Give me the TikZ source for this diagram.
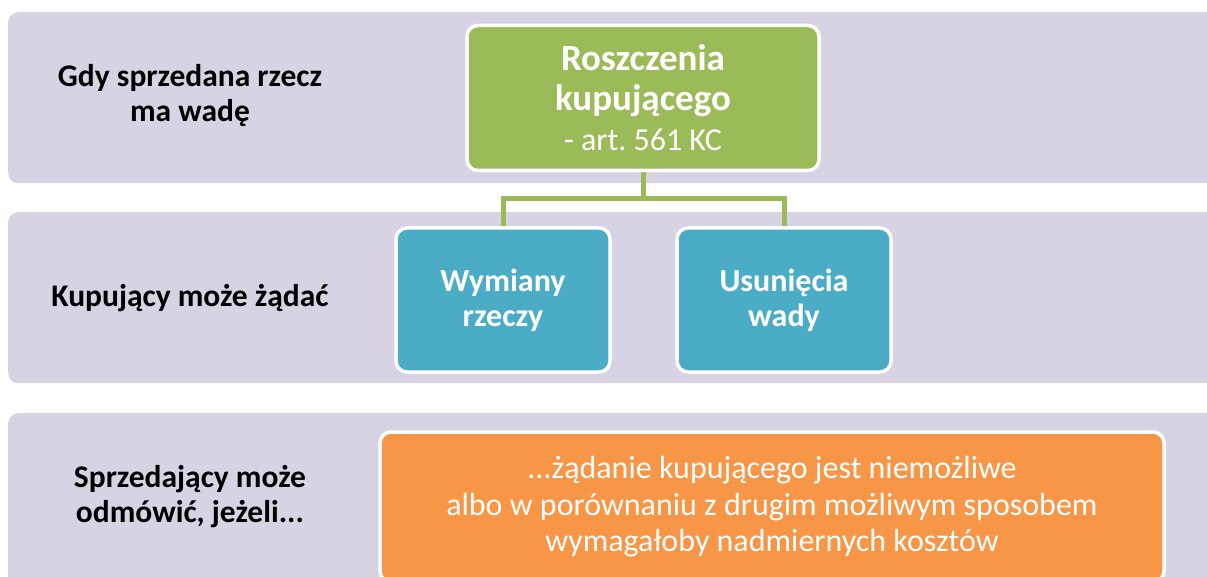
\documentclass[tikz,border=0pt]{standalone}
\usepackage{fontspec}
\setmainfont{Carlito}
\usetikzlibrary{backgrounds}
\frenchspacing
\definecolor{bandgray}{HTML}{D8D3E2}
\definecolor{boxgreen}{HTML}{9BBB59}
\definecolor{boxblue}{HTML}{4BACC6}
\definecolor{boxorange}{HTML}{F79646}
\begin{document}
\begin{tikzpicture}[x=1pt,y=-1pt,
	band/.style={fill=bandgray, rounded corners=10pt, anchor=north west, inner sep=0pt},
	rowlabel/.style={font=\bfseries\fontsize{31.5}{35}\selectfont, align=center, text=black},
	card/.style={draw=white, line width=3.5pt, rounded corners=11pt, inner sep=0pt, text=white, align=center},
	link/.style={draw=boxgreen, line width=5pt}]
	\useasboundingbox (0,0) rectangle (1207,577);
	% row labels
	\node [rowlabel] (lab1) at (190,96) {Gdy sprzedana rzecz\\ma wadę};
	\node [rowlabel] (lab2) at (190,298) {Kupujący może żądać};
	\node [rowlabel] (lab3) at (190,497) {Sprzedający może\\odmówić, jeżeli...};
	% boxes
	\node [card, fill=boxgreen, minimum width=352pt, minimum height=145pt, font=\bfseries\fontsize{37}{40}\selectfont] (claim) at (643,98) {Roszczenia\\kupującego\\\mdseries\fontsize{32}{37}\selectfont - art. 561 KC};
	\node [card, fill=boxblue, minimum width=214pt, minimum height=144pt, font=\bfseries\fontsize{32}{35}\selectfont] (swap) at (503,300) {Wymiany\\rzeczy};
	\node [card, fill=boxblue, minimum width=214pt, minimum height=144pt, font=\bfseries\fontsize{32}{35}\selectfont] (fix) at (784,300) {Usunięcia\\wady};
	\node [card, fill=boxorange, minimum width=784pt, minimum height=150pt, font=\fontsize{32}{36.5}\selectfont] (refuse) at (772,507) {...żądanie kupującego jest niemożliwe\\albo w porównaniu z drugim możliwym sposobem\\wymagałoby nadmiernych kosztów};
	\begin{scope}[on background layer]
		% bands
		\node [band, minimum width=1220pt, minimum height=171pt] (row1) at (8,12) {};
		\node [band, minimum width=1220pt, minimum height=171pt] (row2) at (8,212) {};
		\node [band, minimum width=1220pt, minimum height=190pt] (row3) at (8,413) {};
		% connectors
		\coordinate (fork) at (claim.south |- 0,199);
		\draw [link] (claim.south) -- (fork);
		\draw [link] (swap.north) |- (fork) -| (fix.north);
	\end{scope}
\end{tikzpicture}
\end{document}
